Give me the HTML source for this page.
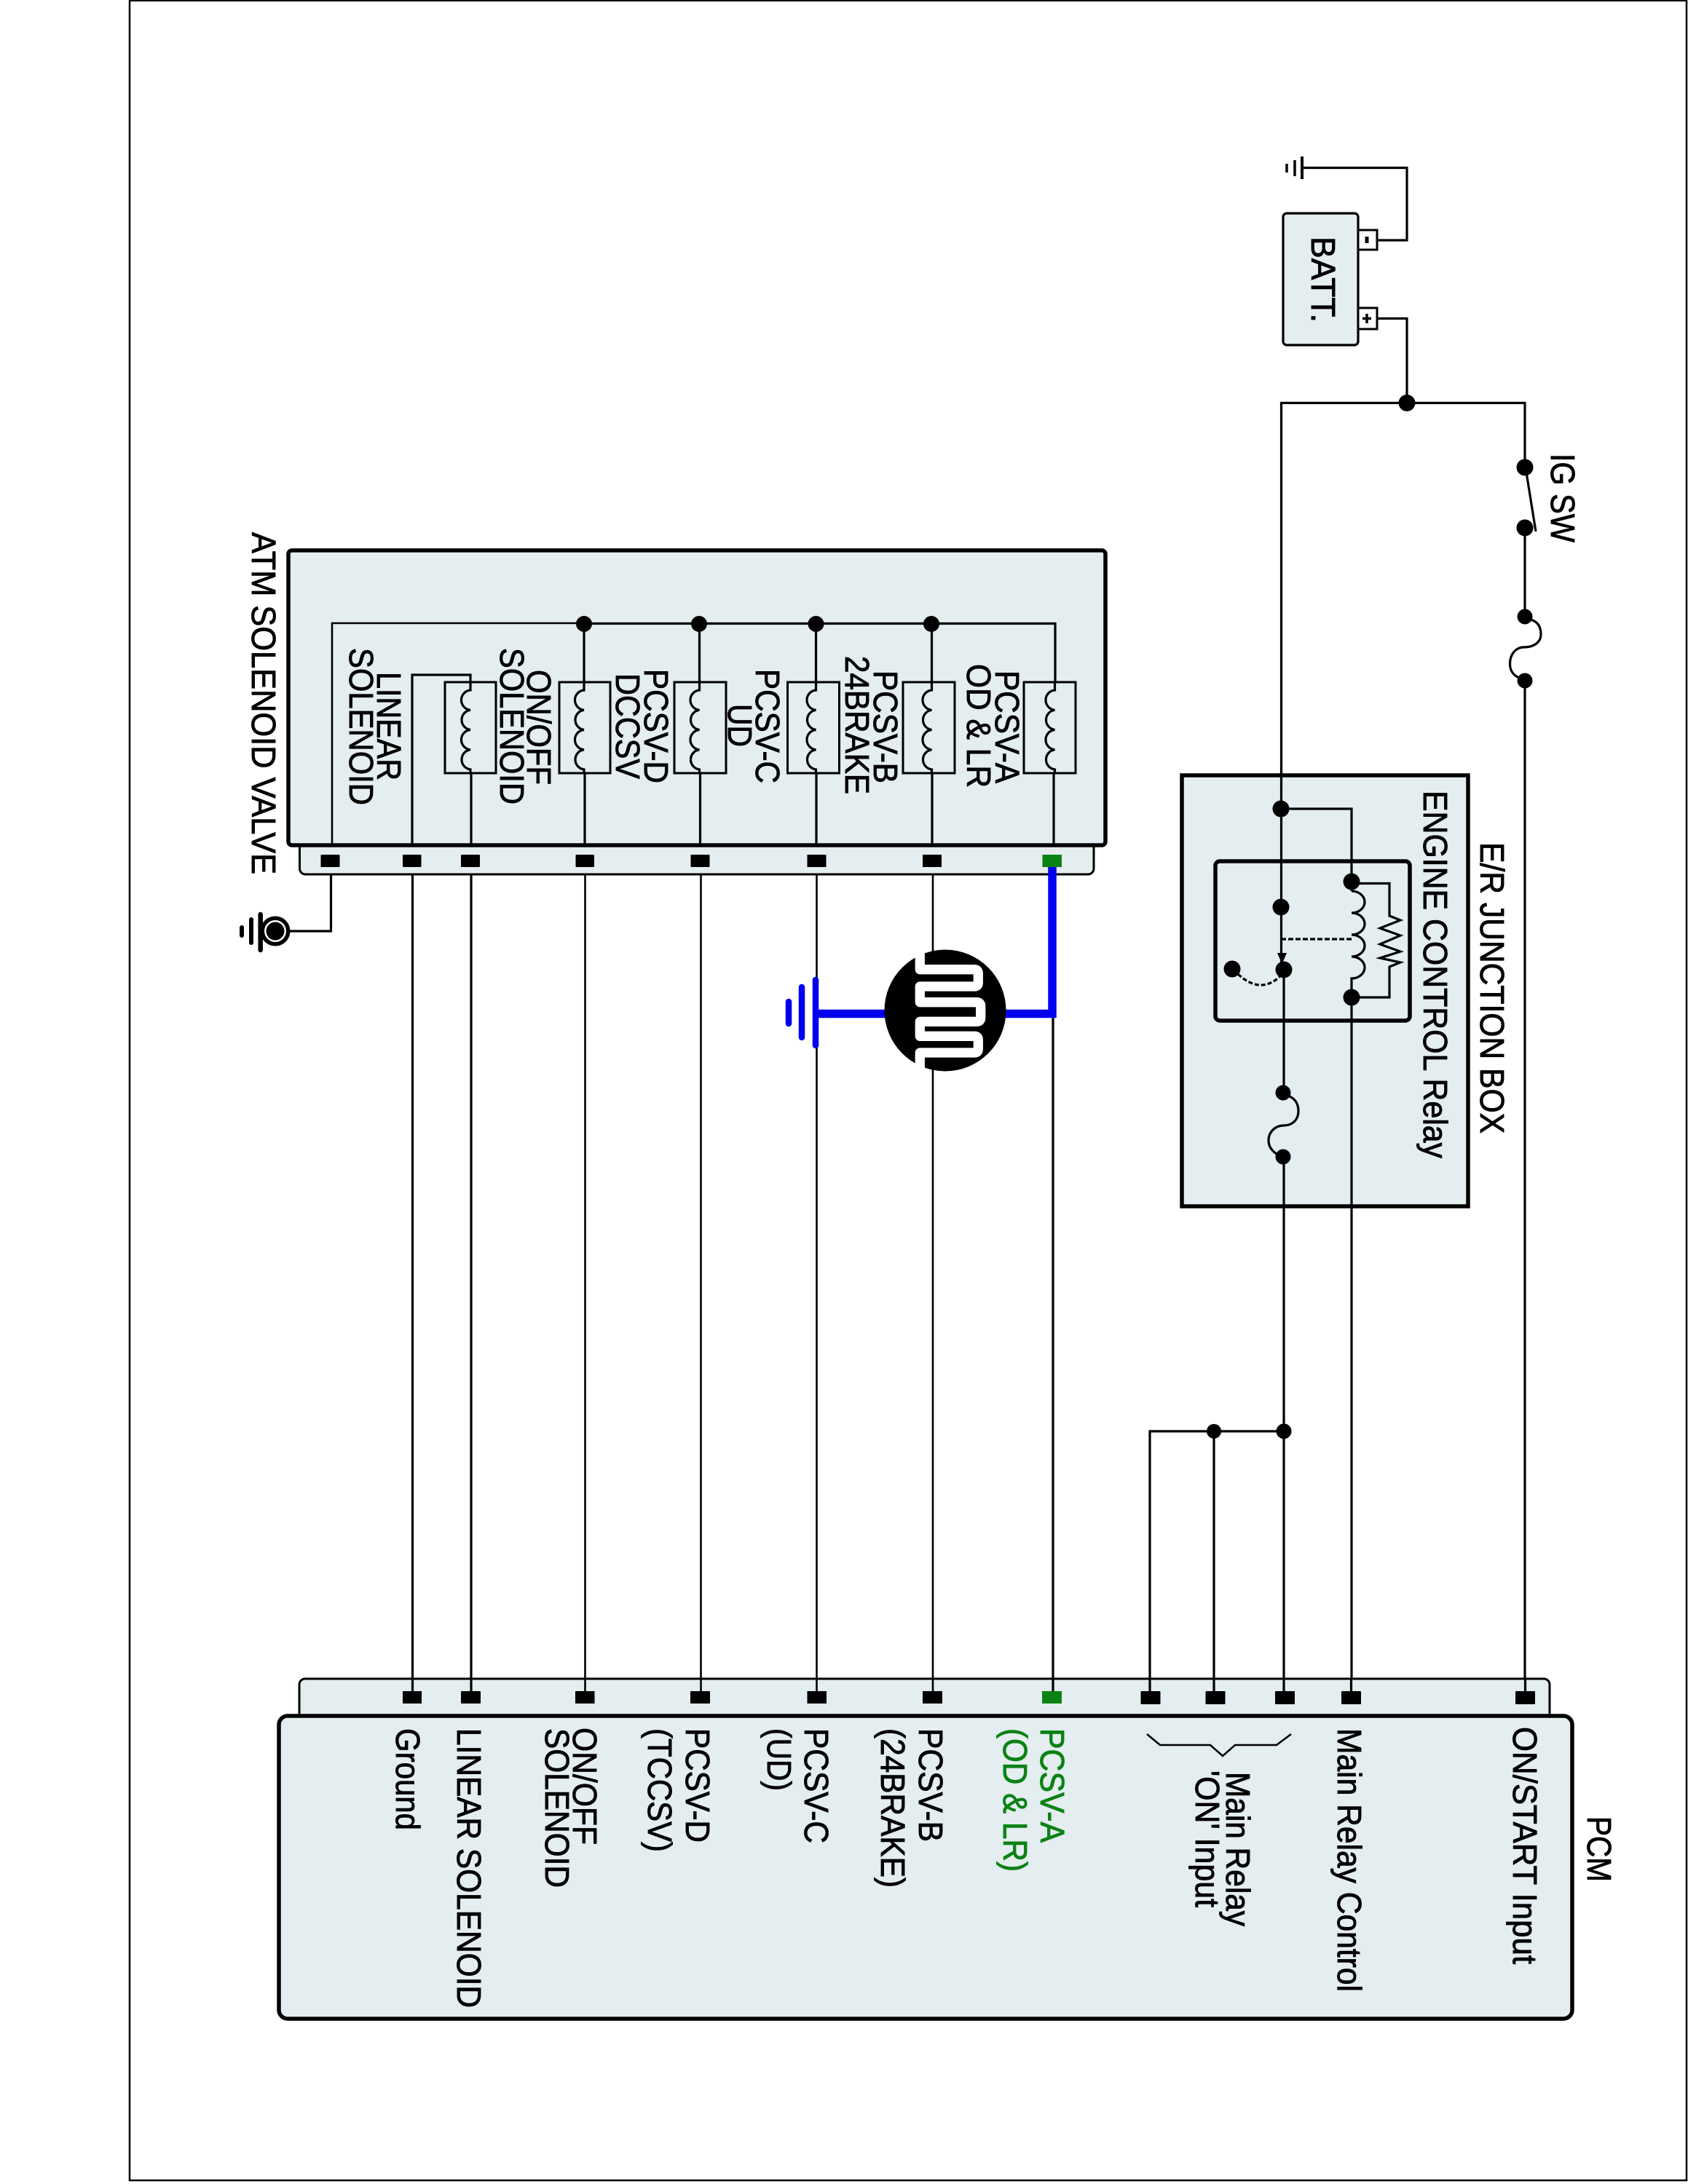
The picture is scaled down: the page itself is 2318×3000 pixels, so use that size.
<!DOCTYPE html>
<html>
<head>
<meta charset="utf-8">
<style>
html,body{margin:0;padding:0;background:#fff}
svg{display:block}
text{font-family:"Liberation Sans",sans-serif;font-size:46px;fill:#000;stroke:#000;stroke-width:.9}
.w{fill:none;stroke:#000;stroke-width:3.2}
.t{fill:none;stroke:#000;stroke-width:2.6}
text.g{fill:#0a8214;stroke:#0a8214}
</style>
</head>
<body>
<svg width="2318" height="3000" viewBox="0 0 2318 3000" xmlns="http://www.w3.org/2000/svg">
<defs>
<g id="coil"><path class="w" d="M0 937V948A13.7 13.7 0 0 0 0 975.3A13.7 13.7 0 0 0 0 1002.5A13.7 13.7 0 0 0 0 1029.8A13.7 13.7 0 0 0 0 1057V1062"/></g>
</defs>
<rect width="2318" height="3000" fill="#fff"/>
<path d="M178 0V2995H2316V0" fill="none" stroke="#000" stroke-width="2.5"/>
<path d="M178 1H2317" fill="none" stroke="#000" stroke-width="2"/>

<!-- Battery -->
<rect x="1762" y="293" width="103" height="181" rx="5" fill="#e4edef" stroke="#000" stroke-width="3.2"/>
<rect x="1865" y="316" width="26" height="27" fill="#fff" stroke="#000" stroke-width="3"/>
<rect x="1865" y="423" width="26" height="29" fill="#fff" stroke="#000" stroke-width="3"/>
<path d="M1877 325V334" stroke="#000" stroke-width="5"/>
<path d="M1871 437.5H1883M1877 431V444" stroke="#000" stroke-width="3.5"/>
<path class="w" d="M1891 330H1932V230.5H1789"/>
<path d="M1788 215V246" stroke="#000" stroke-width="4"/>
<path d="M1778 220V242" stroke="#000" stroke-width="3.5"/>
<path d="M1767 225V237" stroke="#000" stroke-width="3.5"/>
<path class="w" d="M1891 437.5H1932V553.5"/>
<path class="w" d="M1759.5 553.5H2094V642"/>
<circle cx="1932" cy="553.5" r="11.5"/>
<circle cx="2094" cy="642" r="11.5"/>
<circle cx="2094" cy="725" r="11.5"/>
<path class="w" d="M2096.5 652L2109 730"/>
<circle cx="2094" cy="847" r="10.5"/>
<circle cx="2094" cy="935" r="10.5"/>
<path class="w" d="M2094 725V847"/>
<path class="w" d="M2101 851C2112 853 2116 862 2116 871C2116 884 2104 889 2093 889C2082 889 2073.5 898 2073.5 912C2073.5 922 2079 928 2086 931"/>
<path class="w" d="M2094 935V2340"/>

<!-- E/R Junction box -->
<path class="w" d="M1759.5 552V1065"/>
<rect x="1623" y="1065" width="393" height="592" fill="#e4edef" stroke="#000" stroke-width="5.5"/>
<rect x="1669" y="1183" width="267" height="219" rx="6" fill="#e4edef" stroke="#000" stroke-width="5.5"/>
<path class="w" d="M1759.5 1060V1324"/>
<path class="w" d="M1763 1324V1501"/>
<path class="w" d="M1763 1589V2340"/>
<path class="w" d="M1759 1111H1856V1224"/>
<path class="w" d="M1856 1224A18 15 0 0 1 1856 1254A18 15 0 0 1 1856 1284A18 15 0 0 1 1856 1314A18 15 0 0 1 1856 1344V2340"/>
<path class="w" d="M1856 1213.5H1908V1258L1923 1264L1895 1275L1923 1285L1895 1297L1923 1307L1895 1316L1923 1322L1908 1328V1370H1856"/>
<path d="M1759 1290H1856" fill="none" stroke="#000" stroke-width="3.2" stroke-dasharray="7 3"/>
<path d="M1754 1309H1767L1760.5 1324Z"/>
<path d="M1700 1338Q1730 1366 1757 1342" fill="none" stroke="#000" stroke-width="3.2" stroke-dasharray="6 3"/>
<circle cx="1759" cy="1111" r="11.5"/>
<circle cx="1856" cy="1211" r="11.5"/>
<circle cx="1856" cy="1370" r="11.5"/>
<circle cx="1759" cy="1246" r="11.5"/>
<circle cx="1763" cy="1332" r="11.5"/>
<circle cx="1692" cy="1331" r="11.5"/>
<path class="w" d="M1768 1505C1778 1508 1783 1516 1783 1526C1783 1538 1775 1546 1763 1546C1751 1546 1742 1555 1742 1566.5C1742 1575 1747 1581 1753 1585"/>
<circle cx="1762" cy="1501" r="10.5"/>
<circle cx="1762" cy="1589" r="10.5"/>

<!-- Wires between relay and PCM -->
<path class="w" d="M1763 1966H1579V2340M1667 1966V2340"/>
<circle cx="1667" cy="1966" r="10"/>
<circle cx="1763" cy="1966" r="10.5"/>

<!-- Vertical signal wires -->
<path class="w" d="M454.5 1191V1279H398"/>
<path class="w" d="M566.5 1190V2340"/>
<path class="w" d="M647 1190V2340"/>
<path class="t" d="M803.5 1190V2340"/>
<path class="t" d="M962.5 1190V2340"/>
<path class="t" d="M1121.5 1190V2340"/>
<path class="t" d="M1281 1190V2340"/>
<path class="w" d="M1446 1390V2340"/>

<!-- Body ground -->
<circle cx="378" cy="1279" r="20.5"/>
<circle cx="378" cy="1279" r="15" fill="#fff"/>
<circle cx="378" cy="1279" r="12.5"/>
<path d="M357.7 1256V1305" stroke="#000" stroke-width="6.5" stroke-linecap="round"/>
<path d="M345 1263V1295" stroke="#000" stroke-width="6" stroke-linecap="round"/>
<path d="M332 1274V1285" stroke="#000" stroke-width="6" stroke-linecap="round"/>

<!-- Valve body -->
<rect x="411.5" y="1150" width="1090.5" height="51" rx="8" fill="#e4edef" stroke="#000" stroke-width="3"/>
<rect x="396" y="756" width="1122" height="405" rx="5" fill="#e4edef" stroke="#000" stroke-width="5.5"/>
<path class="t" d="M456 1161V856H802"/>
<path class="w" d="M802 856.5H1449V937"/>
<path class="w" d="M802 857V937M960.5 857V937M1120.5 857V937M1279.5 857V937"/>
<path class="w" d="M566 1161V927H646V937"/>
<g fill="#e4edef" stroke="#000" stroke-width="3">
<rect x="611" y="937" width="70" height="125"/>
<rect x="768" y="937" width="70" height="125"/>
<rect x="926" y="937" width="71" height="125"/>
<rect x="1081.5" y="937" width="71" height="125"/>
<rect x="1240" y="937" width="71" height="125"/>
<rect x="1406" y="937" width="71" height="125"/>
</g>
<use href="#coil" x="646"/>
<use href="#coil" x="802"/>
<use href="#coil" x="960.5"/>
<use href="#coil" x="1120.5"/>
<use href="#coil" x="1279.5"/>
<use href="#coil" x="1448.5"/>
<path class="w" d="M647 1062V1161M803 1062V1161M961.5 1062V1161M1121 1062V1161M1280 1062V1161M1447 1062V1161"/>
<circle cx="802" cy="857" r="11"/>
<circle cx="960" cy="857" r="11"/>
<circle cx="1120.5" cy="857" r="11"/>
<circle cx="1279" cy="857" r="11"/>
<rect x="440.5" y="1174" width="26" height="17" rx="1"/>
<rect x="553" y="1174" width="25.5" height="17" rx="1"/>
<rect x="633" y="1174" width="26" height="17" rx="1"/>
<rect x="790.5" y="1174" width="25.5" height="17" rx="1"/>
<rect x="948.5" y="1174" width="26" height="17" rx="1"/>
<rect x="1108.5" y="1174" width="26" height="17"/>
<rect x="1267" y="1174" width="26" height="17"/>
<rect x="1431.5" y="1174" width="26.5" height="17" fill="#0a8214"/>

<!-- Blue ground + photoresistor -->
<path d="M1445 1191V1392.5H1120" fill="none" stroke="#0000ee" stroke-width="11.5"/>
<path d="M1120 1346V1436" stroke="#0000ee" stroke-width="8.5" stroke-linecap="round"/>
<path d="M1101 1356V1425" stroke="#0000ee" stroke-width="8.5" stroke-linecap="round"/>
<path d="M1083 1376V1406" stroke="#0000ee" stroke-width="8.5" stroke-linecap="round"/>
<circle cx="1298" cy="1388" r="83.5"/>
<path d="M1263.3 1302V1331.7H1338Q1343.3 1331.7 1343.3 1337V1350Q1343.3 1355 1338 1355H1263.3V1376.7H1341Q1346.7 1376.7 1346.7 1382V1398Q1346.7 1403.3 1341 1403.3H1263.3V1423.3H1338Q1343.3 1423.3 1343.3 1428V1441Q1343.3 1446 1338 1446H1263.3V1474" fill="none" stroke="#fff" stroke-width="13.3" stroke-linejoin="round"/>

<!-- PCM -->
<rect x="411" y="2306" width="1717" height="60" rx="8" fill="#e4edef" stroke="#000" stroke-width="3"/>
<rect x="383" y="2357" width="1776" height="416" rx="12" fill="#e4edef" stroke="#000" stroke-width="5.5"/>
<path class="w" d="M566.5 2306V2330M647 2306V2330"/>
<path class="t" d="M803.5 2306V2330M962.5 2306V2330M1121.5 2306V2330M1281 2306V2330"/>
<path class="w" d="M1446 2306V2330M1579 2306V2330M1667 2306V2330M1763 2306V2330M1855.5 2306V2330M2094.5 2306V2330"/>
<rect x="553" y="2323" width="26" height="17"/>
<rect x="633" y="2323" width="27" height="17" rx="1"/>
<rect x="790" y="2323" width="26.5" height="17"/>
<rect x="948" y="2323" width="27" height="17" rx="1"/>
<rect x="1108.5" y="2323" width="26.5" height="17"/>
<rect x="1267" y="2323" width="27" height="17"/>
<rect x="1431" y="2323" width="27" height="17" fill="#0a8214"/>
<rect x="1566.5" y="2323" width="27" height="18" rx="1"/>
<rect x="1655.5" y="2323" width="27" height="18" rx="1"/>
<rect x="1751" y="2323" width="27" height="18" rx="1"/>
<rect x="1842" y="2323" width="27" height="18" rx="1"/>
<rect x="2081" y="2323" width="27" height="18" rx="1"/>
<path class="t" d="M1575 2382L1593 2397H1662L1679 2412L1696 2397H1753L1773 2382"/>

<!-- Labels -->
<g>
<text transform="translate(1801,325) rotate(90)" textLength="118" lengthAdjust="spacingAndGlyphs">BATT.</text>
<text transform="translate(2130,623) rotate(90)" textLength="122" lengthAdjust="spacingAndGlyphs">IG SW</text>
<text transform="translate(2033,1157) rotate(90)" textLength="400" lengthAdjust="spacingAndGlyphs">E/R JUNCTION BOX</text>
<text transform="translate(1955,1086) rotate(90)" textLength="505" lengthAdjust="spacingAndGlyphs">ENGINE CONTROL Relay</text>
<text transform="translate(346,731) rotate(90)" textLength="470" lengthAdjust="spacingAndGlyphs">ATM SOLENOID  VALVE</text>
<text transform="translate(518,923) rotate(90)" textLength="149" lengthAdjust="spacingAndGlyphs">LINEAR</text>
<text transform="translate(480,890) rotate(90)" textLength="216" lengthAdjust="spacingAndGlyphs">SOLENOID</text>
<text transform="translate(724,920) rotate(90)" textLength="158" lengthAdjust="spacingAndGlyphs">ON/OFF</text>
<text transform="translate(687,890) rotate(90)" textLength="215" lengthAdjust="spacingAndGlyphs">SOLENOID</text>
<text transform="translate(885,919) rotate(90)" textLength="157" lengthAdjust="spacingAndGlyphs">PCSV-D</text>
<text transform="translate(846,925) rotate(90)" textLength="145" lengthAdjust="spacingAndGlyphs">DCCSV</text>
<text transform="translate(1038,919) rotate(90)" textLength="157" lengthAdjust="spacingAndGlyphs">PCSV-C</text>
<text transform="translate(1000,967) rotate(90)" textLength="59" lengthAdjust="spacingAndGlyphs">UD</text>
<text transform="translate(1200,921) rotate(90)" textLength="155" lengthAdjust="spacingAndGlyphs">PCSV-B</text>
<text transform="translate(1161,901) rotate(90)" textLength="190" lengthAdjust="spacingAndGlyphs">24BRAKE</text>
<text transform="translate(1367,921) rotate(90)" textLength="155" lengthAdjust="spacingAndGlyphs">PCSV-A</text>
<text transform="translate(1328,912) rotate(90)" textLength="170" lengthAdjust="spacingAndGlyphs">OD &amp; LR</text>

<text transform="translate(544,2374) rotate(90)" textLength="140" lengthAdjust="spacingAndGlyphs">Ground</text>
<text transform="translate(628,2374) rotate(90)" textLength="384" lengthAdjust="spacingAndGlyphs">LINEAR SOLENOID</text>
<text transform="translate(787,2373) rotate(90)" textLength="161" lengthAdjust="spacingAndGlyphs">ON/OFF</text>
<text transform="translate(749,2374) rotate(90)" textLength="219" lengthAdjust="spacingAndGlyphs">SOLENOID</text>
<text transform="translate(942,2374) rotate(90)" textLength="157" lengthAdjust="spacingAndGlyphs">PCSV-D</text>
<text transform="translate(890,2374) rotate(90)" textLength="170" lengthAdjust="spacingAndGlyphs">(TCCSV)</text>
<text transform="translate(1105,2374) rotate(90)" textLength="158" lengthAdjust="spacingAndGlyphs">PCSV-C</text>
<text transform="translate(1054,2374) rotate(90)" textLength="86" lengthAdjust="spacingAndGlyphs">(UD)</text>
<text transform="translate(1262,2374) rotate(90)" textLength="156" lengthAdjust="spacingAndGlyphs">PCSV-B</text>
<text transform="translate(1210,2374) rotate(90)" textLength="219" lengthAdjust="spacingAndGlyphs">(24BRAKE)</text>
<text class="g" transform="translate(1429,2374) rotate(90)" textLength="157" lengthAdjust="spacingAndGlyphs">PCSV-A</text>
<text class="g" transform="translate(1378,2374) rotate(90)" textLength="197" lengthAdjust="spacingAndGlyphs">(OD &amp; LR)</text>
<text transform="translate(1684,2434) rotate(90)" textLength="212" lengthAdjust="spacingAndGlyphs">Main Relay</text>
<text transform="translate(1642,2432) rotate(90)" textLength="188" lengthAdjust="spacingAndGlyphs">'ON' Input</text>
<text transform="translate(1837,2374) rotate(90)" textLength="362" lengthAdjust="spacingAndGlyphs">Main Relay Control</text>
<text transform="translate(2078,2372) rotate(90)" textLength="326" lengthAdjust="spacingAndGlyphs">ON/START Input</text>
<text transform="translate(2180,2495) rotate(90)" textLength="90" lengthAdjust="spacingAndGlyphs">PCM</text>
</g>
</svg>
</body>
</html>
